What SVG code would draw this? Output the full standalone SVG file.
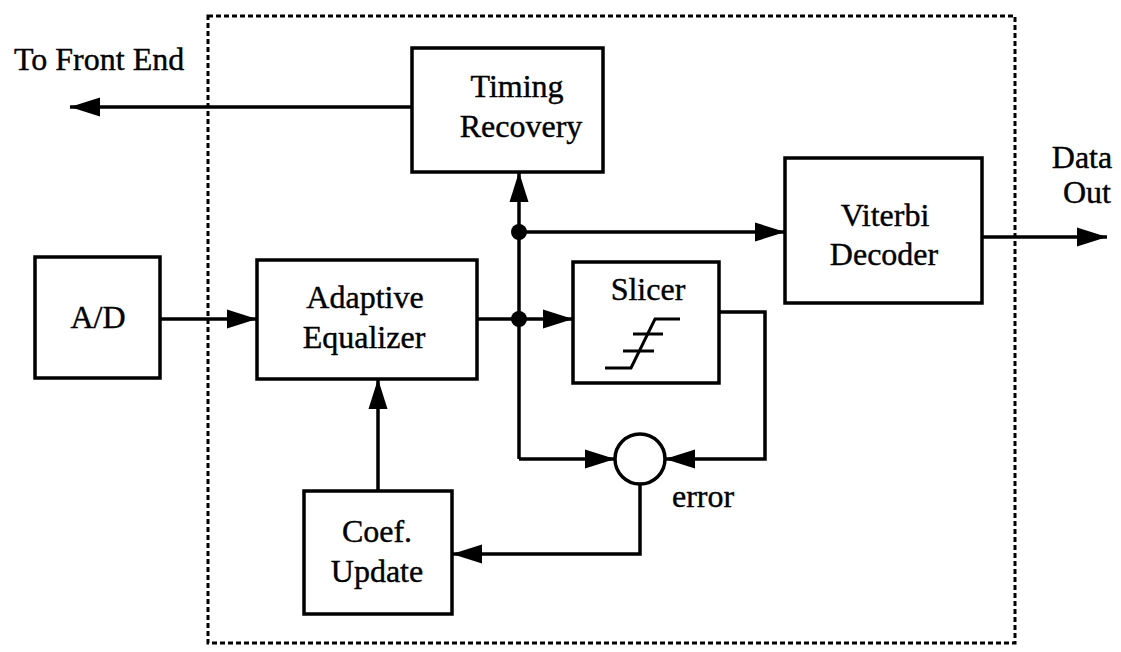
<svg xmlns="http://www.w3.org/2000/svg" width="1121" height="652" viewBox="0 0 1121 652">
<defs>
<marker id="arr" markerUnits="userSpaceOnUse" markerWidth="30" markerHeight="20" refX="30" refY="10" orient="auto">
<path d="M0,0.5 L30,10 L0,19.5 z" fill="#000"/>
</marker>
<style>
.box{fill:#fff;stroke:#000;stroke-width:3.5}
.t{font-family:"Liberation Serif","Times New Roman",serif;font-size:32px;fill:#000;text-anchor:middle;stroke:#000;stroke-width:0.4}
.c{fill:none;stroke:#000;stroke-width:3.5}
.a{marker-end:url(#arr)}
</style>
</defs>
<rect x="0" y="0" width="1121" height="652" fill="#fff"/>
<rect id="boundary" x="208" y="16" width="807" height="627" fill="none" stroke="#000" stroke-width="3" stroke-dasharray="5 3"/>
<g id="connectors">
<line class="c a" x1="160" y1="319" x2="257" y2="319"/>
<line class="c a" x1="477" y1="319" x2="573" y2="319"/>
<line class="c a" x1="519" y1="459" x2="519" y2="172"/>
<line class="c a" x1="519" y1="232" x2="785" y2="232"/>
<line class="c a" x1="519" y1="459" x2="615" y2="459"/>
<polyline class="c a" points="719,312 765,312 765,459 665,459"/>
<polyline class="c a" points="640,484 640,554 452,554"/>
<line class="c a" x1="378" y1="491" x2="378" y2="379"/>
<line class="c a" x1="412" y1="107" x2="70" y2="107"/>
<line class="c a" x1="982" y1="237" x2="1107" y2="237"/>
<circle cx="519" cy="232" r="8" fill="#000"/>
<circle cx="519" cy="319" r="8" fill="#000"/>
</g>
<g id="ad"><rect class="box" x="35" y="257" width="125" height="121"/><text class="t" x="98" y="328">A/D</text></g>
<g id="equalizer"><rect class="box" x="257" y="260" width="220" height="119"/><text class="t" x="365" y="308">Adaptive</text><text class="t" x="364" y="348">Equalizer</text></g>
<g id="timing"><rect class="box" x="412" y="48" width="191" height="124"/><text class="t" x="517" y="97">Timing</text><text class="t" x="521" y="137">Recovery</text></g>
<g id="slicer"><rect class="box" x="573" y="262" width="146" height="121"/><text class="t" x="648" y="300">Slicer</text>
<polyline points="605,368 631,368 655,319 680,319" fill="none" stroke="#000" stroke-width="3"/>
<line x1="633" y1="334" x2="663" y2="334" stroke="#000" stroke-width="3"/>
<line x1="623" y1="351" x2="654" y2="351" stroke="#000" stroke-width="3"/>
</g>
<g id="viterbi"><rect class="box" x="785" y="158" width="197" height="145"/><text class="t" x="885" y="226">Viterbi</text><text class="t" x="884" y="265">Decoder</text></g>
<g id="sum"><circle cx="640" cy="459" r="25" fill="#fff" stroke="#000" stroke-width="3.5"/></g>
<g id="coef"><rect class="box" x="304" y="491" width="148" height="123"/><text class="t" x="377" y="542">Coef.</text><text class="t" x="377" y="582">Update</text></g>
<g id="labels">
<text class="t" x="14" y="70" style="text-anchor:start">To Front End</text>
<text class="t" x="1082" y="168">Data</text>
<text class="t" x="1087" y="203">Out</text>
<text class="t" x="672" y="507" style="text-anchor:start">error</text>
</g>
</svg>
